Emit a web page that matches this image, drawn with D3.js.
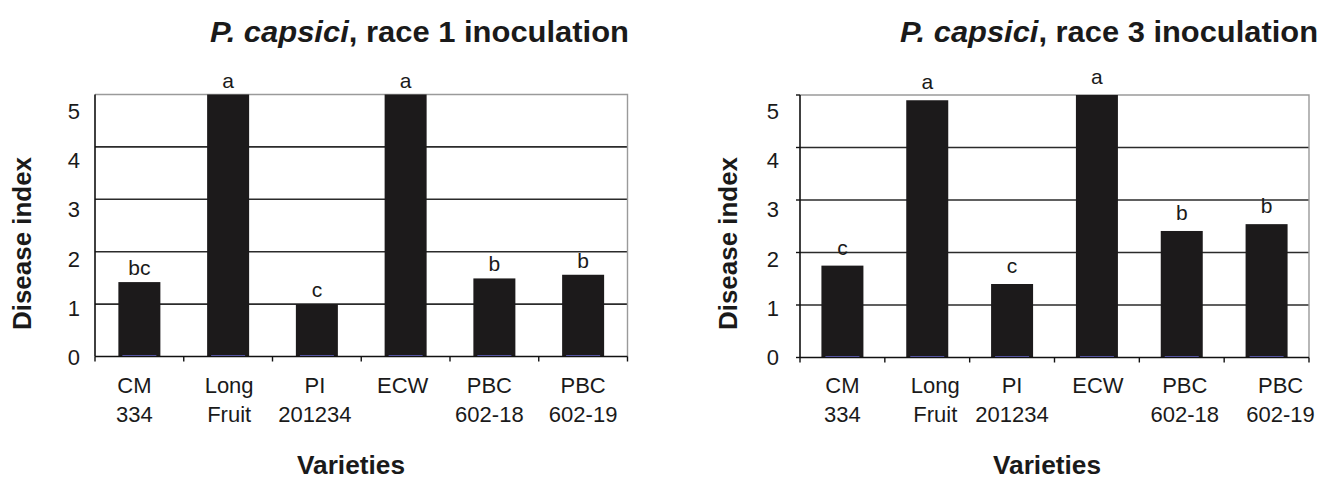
<!DOCTYPE html>
<html>
<head>
<meta charset="utf-8">
<script src="https://cdn.jsdelivr.net/npm/d3@7"></script>
<style>
  html, body { margin: 0; padding: 0; background: #fff; }
  svg { display: block; }
  text { font-family: "Liberation Sans", Arial, Helvetica, sans-serif; fill: #1a1a1a; }
</style>
</head>
<body>
<svg id="chart" width="1323" height="479"></svg>
<script>
// Varieties (two-line labels)
const varietyLine1 = ["CM", "Long", "PI", "ECW", "PBC", "PBC"];
const varietyLine2 = ["334", "Fruit", "201234", "", "602-18", "602-19"];

// Mean disease index per variety
const race1Values = [1.42, 5.0, 1.0, 5.0, 1.49, 1.56];
const race3Values = [1.75, 4.9, 1.40, 5.0, 2.41, 2.54];

// Mean separation letters
const race1Letters = ["bc", "a", "c", "a", "b", "b"];
const race3Letters = ["c", "a", "c", "a", "b", "b"];

const yTicks = [0, 1, 2, 3, 4, 5];

// panel layout (pixel geometry only)
const panels = [
  { race: "1", values: race1Values, letters: race1Letters,
    x0: 95, x1: 627.5, y0: 356.5, y1: 94.5, letterGap: 7, leftTicks: false,
    labelNudge: [-5, 1, -2, -3, -5, 0],
    titleX: 210, titleW: 419, yTitleX: 22, xTitleX: 351, tickLabelGap: 15 },
  { race: "3", values: race3Values, letters: race3Letters,
    x0: 800, x1: 1309, y0: 357.5, y1: 95, letterGap: 11, leftTicks: true,
    labelNudge: [0, 8, 0, 1, 3, 14],
    titleX: 900, titleW: 418, yTitleX: 728, xTitleX: 1047, tickLabelGap: 21 }
];

const svg = d3.select("#chart");

panels.forEach(p => {
  const g = svg.append("g");

  const x = d3.scaleBand()
    .domain(d3.range(varietyLine1.length))
    .range([p.x0, p.x1])
    .paddingInner(0)
    .paddingOuter(0);
  const barW = 42;
  const cx = i => x(i) + x.bandwidth() / 2;

  const y = d3.scaleLinear().domain([0, 5]).range([p.y0, p.y1]);
  // tick numerals sit on their own, slightly tighter, vertical scale
  const yLabel = d3.scaleLinear().domain([0, 5]).range([365, 119]);

  // gridlines 1..4
  g.selectAll("line.grid")
    .data(yTicks.filter(t => t > 0 && t < 5))
    .join("line")
    .attr("class", "grid")
    .attr("x1", p.x0).attr("x2", p.x1)
    .attr("y1", d => y(d)).attr("y2", d => y(d))
    .attr("stroke", "#2b2b2b").attr("stroke-width", 1.6);

  // top and right frame (light grey)
  g.append("path")
    .attr("d", `M${p.x0},${y(5)}H${p.x1}V${y(0)}`)
    .attr("fill", "none")
    .attr("stroke", "#9a9a9a").attr("stroke-width", 1.4);

  // bars
  g.selectAll("rect.bar")
    .data(p.values)
    .join("rect")
    .attr("class", "bar")
    .attr("x", (d, i) => cx(i) - barW / 2)
    .attr("width", barW)
    .attr("y", d => y(d))
    .attr("height", d => y(0) - y(d))
    .attr("fill", "#1c1a1b");

  // faint blue base line under each bar
  g.selectAll("line.base")
    .data(p.values)
    .join("line")
    .attr("class", "base")
    .attr("x1", (d, i) => cx(i) - barW / 2 + 4)
    .attr("x2", (d, i) => cx(i) + barW / 2 - 4)
    .attr("y1", y(0) - 1).attr("y2", y(0) - 1)
    .attr("stroke", "#6a6ad0").attr("stroke-width", 1);

  // left axis line
  g.append("line")
    .attr("x1", p.x0).attr("x2", p.x0)
    .attr("y1", y(5)).attr("y2", y(0))
    .attr("stroke", "#111").attr("stroke-width", 1.6);

  if (p.leftTicks) {
    g.selectAll("line.ltick")
      .data(yTicks)
      .join("line")
      .attr("class", "ltick")
      .attr("x1", p.x0 - 4).attr("x2", p.x0)
      .attr("y1", d => y(d)).attr("y2", d => y(d))
      .attr("stroke", "#111").attr("stroke-width", 1.4);
  }

  // bottom axis with category boundary ticks
  g.append("line")
    .attr("x1", p.x0).attr("x2", p.x1)
    .attr("y1", y(0)).attr("y2", y(0))
    .attr("stroke", "#111").attr("stroke-width", 1.6);
  const bounds = d3.range(varietyLine1.length + 1).map(i =>
    i < varietyLine1.length ? x(i) : p.x1);
  g.selectAll("line.btick")
    .data(bounds)
    .join("line")
    .attr("class", "btick")
    .attr("x1", d => d).attr("x2", d => d)
    .attr("y1", y(0)).attr("y2", y(0) + 5)
    .attr("stroke", "#111").attr("stroke-width", 1.4);

  // y tick numerals
  g.selectAll("text.ylab")
    .data(yTicks)
    .join("text")
    .attr("class", "ylab")
    .attr("x", p.x0 - p.tickLabelGap)
    .attr("y", d => yLabel(d))
    .attr("text-anchor", "end")
    .attr("font-size", 22)
    .text(d => d);

  // category labels
  g.selectAll("text.cat1")
    .data(varietyLine1)
    .join("text")
    .attr("class", "cat1")
    .attr("x", (d, i) => cx(i) + p.labelNudge[i])
    .attr("y", 393)
    .attr("text-anchor", "middle")
    .attr("font-size", 22)
    .text(d => d);
  g.selectAll("text.cat2")
    .data(varietyLine2)
    .join("text")
    .attr("class", "cat2")
    .attr("x", (d, i) => cx(i) + p.labelNudge[i])
    .attr("y", 422)
    .attr("text-anchor", "middle")
    .attr("font-size", 22)
    .text(d => d);

  // mean separation letters
  g.selectAll("text.letter")
    .data(p.values)
    .join("text")
    .attr("class", "letter")
    .attr("x", (d, i) => cx(i))
    .attr("y", d => y(d) - p.letterGap)
    .attr("text-anchor", "middle")
    .attr("font-size", 21)
    .text((d, i) => p.letters[i]);

  // panel title
  const t = g.append("text")
    .attr("x", p.titleX)
    .attr("y", 42)
    .attr("font-size", 30)
    .attr("font-weight", "bold")
    .attr("textLength", p.titleW)
    .attr("lengthAdjust", "spacingAndGlyphs");
  t.append("tspan").attr("font-style", "italic").text("P. capsici");
  t.append("tspan").text(`, race ${p.race} inoculation`);

  // y axis title
  g.append("text")
    .attr("transform", `translate(${p.yTitleX},${(157 + 330) / 2}) rotate(-90)`)
    .attr("text-anchor", "middle")
    .attr("dominant-baseline", "central")
    .attr("font-size", 25)
    .attr("font-weight", "bold")
    .attr("textLength", 173)
    .attr("lengthAdjust", "spacingAndGlyphs")
    .text("Disease index");

  // x axis title
  g.append("text")
    .attr("x", p.xTitleX)
    .attr("y", 474)
    .attr("text-anchor", "middle")
    .attr("font-size", 25)
    .attr("font-weight", "bold")
    .attr("textLength", 108)
    .attr("lengthAdjust", "spacingAndGlyphs")
    .text("Varieties");
});
</script>
</body>
</html>
